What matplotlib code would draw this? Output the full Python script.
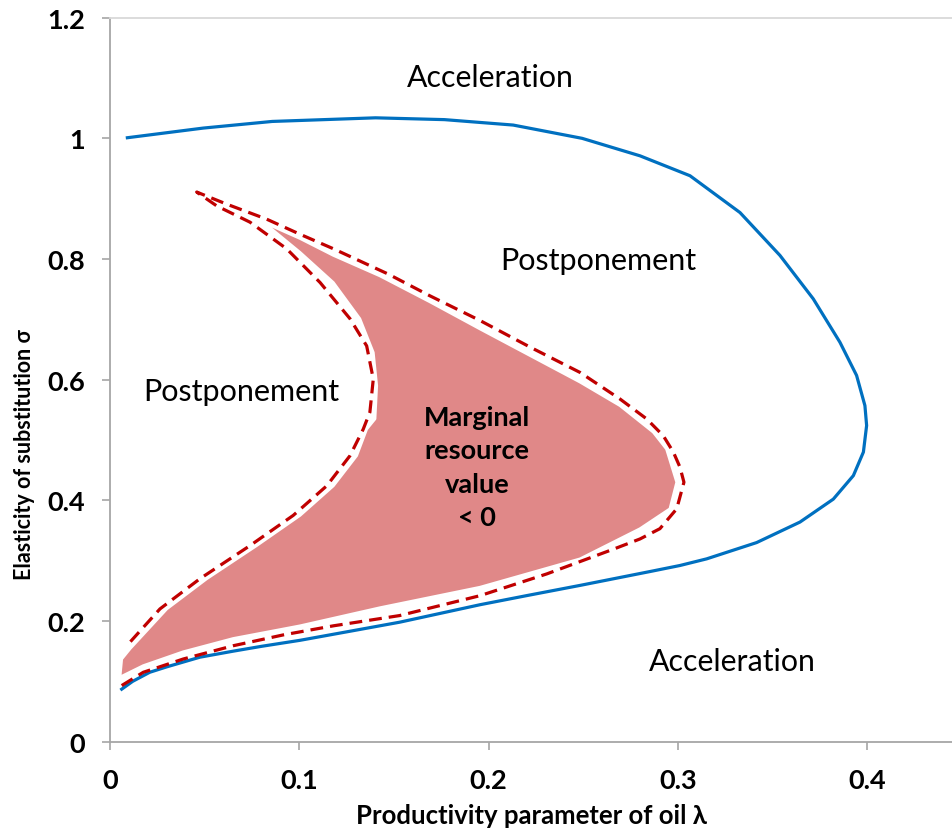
# Regions of oil extraction timing vs. elasticity of substitution and oil productivity.
import matplotlib as mpl
mpl.use('Agg')
import numpy as np
import matplotlib.pyplot as plt

plt.rcParams['font.family'] = ['Lato', 'DejaVu Sans']

# blue boundary (acceleration / postponement)
blue_lam = [0.0062, 0.012, 0.021, 0.030, 0.0475, 0.0651, 0.080, 0.1004, 0.125, 0.153,
            0.175, 0.1955, 0.220, 0.2483, 0.2853, 0.3011, 0.3152, 0.3416, 0.3645,
            0.3821, 0.3927, 0.398, 0.3997, 0.3988, 0.3944, 0.3856, 0.3715, 0.3539,
            0.3328, 0.3064, 0.280, 0.2494, 0.213, 0.1767, 0.1403, 0.0857, 0.0493, 0.0092]
blue_sig = [0.087, 0.100, 0.115, 0.124, 0.140, 0.150, 0.158, 0.168, 0.182, 0.198,
            0.213, 0.227, 0.242, 0.259, 0.282, 0.292, 0.303, 0.330, 0.364,
            0.402, 0.441, 0.480, 0.524, 0.557, 0.607, 0.662, 0.734, 0.806,
            0.877, 0.938, 0.971, 1.000, 1.022, 1.031, 1.034, 1.028, 1.017, 1.001]

# red dashed boundary (marginal resource value = 0)
red_lam = [0.0062, 0.0176, 0.0387, 0.0651, 0.0916, 0.118, 0.153, 0.1955, 0.2307,
           0.2659, 0.280, 0.2905, 0.2994, 0.3032, 0.3011, 0.2976, 0.2923, 0.2835,
           0.2694, 0.2483, 0.2219, 0.1955, 0.169, 0.147, 0.118, 0.1004, 0.0828,
           0.0616, 0.0458,
           0.0564, 0.074, 0.0933, 0.111, 0.1268, 0.1356, 0.1391, 0.1373, 0.1338,
           0.1268, 0.1145, 0.0968, 0.074, 0.0475, 0.0264, 0.0106]
red_sig = [0.093, 0.115, 0.137, 0.159, 0.177, 0.192, 0.209, 0.242, 0.278,
           0.319, 0.336, 0.353, 0.386, 0.430, 0.455, 0.480, 0.507, 0.535,
           0.568, 0.612, 0.654, 0.698, 0.739, 0.775, 0.817, 0.841, 0.866,
           0.891, 0.911,
           0.888, 0.861, 0.817, 0.761, 0.701, 0.656, 0.601, 0.546, 0.518,
           0.474, 0.424, 0.375, 0.325, 0.270, 0.220, 0.165]

# shaded region (marginal resource value < 0)
fill_lam = [0.0053, 0.0176, 0.0387, 0.0651, 0.1004, 0.1426, 0.1955, 0.2483, 0.280,
            0.2958, 0.2994, 0.294, 0.287, 0.2694, 0.2483, 0.2219, 0.1955, 0.169,
            0.1426, 0.118, 0.1004, 0.081,
            0.1004, 0.118, 0.132, 0.1391, 0.1409, 0.140, 0.1356, 0.1303, 0.118,
            0.1004, 0.0775, 0.0511, 0.030, 0.0106, 0.0062]
fill_sig = [0.107, 0.126, 0.149, 0.171, 0.192, 0.222, 0.256, 0.303, 0.353,
            0.386, 0.430, 0.485, 0.513, 0.557, 0.596, 0.640, 0.684, 0.729,
            0.772, 0.806, 0.834, 0.861,
            0.811, 0.761, 0.701, 0.645, 0.590, 0.535, 0.518, 0.474, 0.424,
            0.375, 0.325, 0.270, 0.220, 0.154, 0.137]

fig = plt.figure(figsize=(9.52, 8.37), dpi=100)
ax = fig.add_axes([0.1155, 0.1127, 0.8845, 0.865])

ax.fill(fill_lam, fill_sig, facecolor='#e08888', edgecolor='white', linewidth=2,
        joinstyle='round', zorder=1)
ax.plot(blue_lam, blue_sig, color='#0070c0', linewidth=2.3, solid_joinstyle='round', zorder=2)
ax.plot(red_lam, red_sig, color='#c00000', linewidth=2.3, dashes=(4, 2.2),
        dash_joinstyle='round', zorder=3)

ax.text(0.2007, 1.102, 'Acceleration', fontsize=21.8, ha='center', va='center')
ax.text(0.3286, 0.134, 'Acceleration', fontsize=21.8, ha='center', va='center')
ax.text(0.2578, 0.798, 'Postponement', fontsize=22, ha='center', va='center')
ax.text(0.0692, 0.581, 'Postponement', fontsize=22, ha='center', va='center')
ax.text(0.194, 0.455, 'Marginal\nresource\nvalue\n< 0', fontsize=19.5, fontweight='bold',
        ha='center', va='center', linespacing=1.47)

ax.set_xlim(0, 0.4448)
ax.set_ylim(0, 1.2)
ax.set_xticks([0, 0.1, 0.2, 0.3, 0.4])
ax.set_xticklabels(['0', '0.1', '0.2', '0.3', '0.4'])
ax.set_yticks([0, 0.2, 0.4, 0.6, 0.8, 1.0, 1.2])
ax.set_yticklabels(['0', '0.2', '0.4', '0.6', '0.8', '1', '1.2'])
ax.tick_params(direction='out', length=6, width=1.2, color='#a6a6a6',
               labelsize=19.5)
ax.tick_params(axis='y', pad=12)
ax.tick_params(axis='x', pad=13)
for lab in ax.get_xticklabels() + ax.get_yticklabels():
    lab.set_fontweight('bold')

ax.spines['right'].set_visible(False)
ax.spines['top'].set_color('#d9d9d9')
ax.spines['left'].set_color('#a6a6a6')
ax.spines['bottom'].set_color('#a6a6a6')
for s in ['left', 'bottom', 'top']:
    ax.spines[s].set_linewidth(1.3)

ax.set_xlabel('Productivity parameter of oil λ', fontsize=18.5, fontweight='bold', labelpad=8)
ax.set_ylabel('Elasticity of substitution σ', fontsize=15.5, fontweight='bold')
ax.yaxis.set_label_coords(-0.089, 0.398)

plt.savefig('out.png', dpi=100, facecolor='w')
